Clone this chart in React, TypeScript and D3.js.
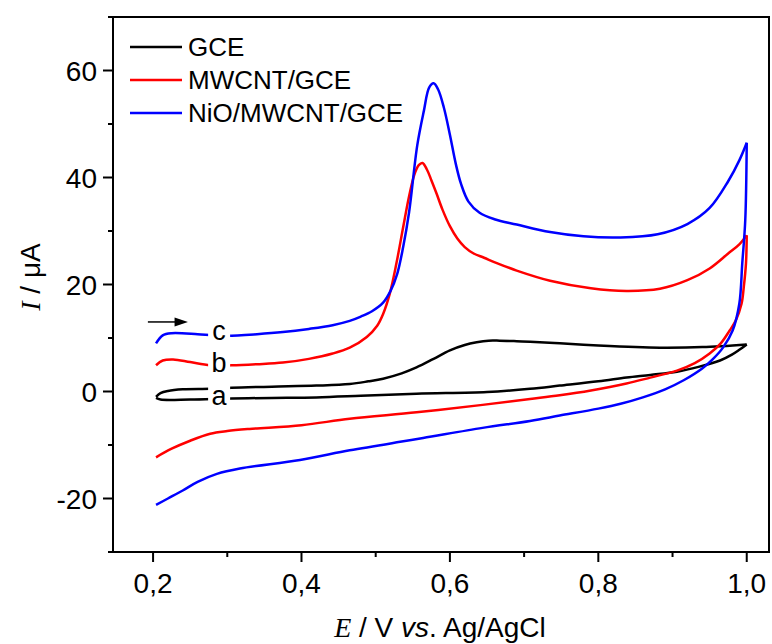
import React from "react";
import * as d3 from "d3";

// Cyclic voltammograms: forward (anodic) and reverse scans for each electrode
const gceFwdE = [0.204, 0.21, 0.22, 0.24, 0.277, 0.306, 0.36, 0.42, 0.465, 0.49, 0.51, 0.535, 0.555, 0.578, 0.6, 0.62, 0.636, 0.652, 0.667, 0.69, 0.708, 0.748, 0.8, 0.85, 0.883, 0.94, 1.0];
const gceFwdI = [-1.0, -0.3, 0.1, 0.4, 0.5, 0.7, 0.9, 1.1, 1.4, 1.9, 2.4, 3.4, 4.5, 6.1, 7.7, 8.7, 9.2, 9.5, 9.5, 9.4, 9.3, 9.0, 8.6, 8.3, 8.2, 8.3, 8.8];
const gceRevE = [1.0, 0.99, 0.98, 0.964, 0.935, 0.906, 0.87, 0.838, 0.8, 0.748, 0.708, 0.65, 0.555, 0.48, 0.42, 0.36, 0.306, 0.25, 0.21, 0.204];
const gceRevI = [8.8, 7.8, 6.9, 5.8, 4.6, 3.7, 3.1, 2.6, 1.9, 1.1, 0.5, -0.1, -0.4, -0.8, -1.1, -1.2, -1.3, -1.5, -1.5, -1.2];

const mwFwdE = [0.204, 0.213, 0.227, 0.25, 0.277, 0.306, 0.34, 0.375, 0.41, 0.442, 0.465, 0.488, 0.502, 0.51, 0.519, 0.528, 0.537, 0.545, 0.552, 0.558, 0.563, 0.569, 0.575, 0.582, 0.59, 0.6, 0.61, 0.62, 0.632, 0.646, 0.665, 0.69, 0.735, 0.79, 0.838, 0.883, 0.92, 0.95, 0.975, 0.99, 1.0];
const mwFwdI = [4.9, 5.8, 6.0, 5.5, 4.9, 4.9, 5.1, 5.4, 6.1, 7.1, 8.2, 10.2, 12.3, 14.5, 18.3, 24, 30.7, 36.5, 40.5, 42.3, 42.7, 41.5, 39.5, 37, 34, 30.9, 28.6, 27, 25.8, 25, 23.9, 22.6, 20.7, 19.3, 18.8, 19.2, 20.8, 23.0, 25.8, 27.5, 29.2];
const mwRevE = [1.0, 0.999, 0.996, 0.993, 0.985, 0.977, 0.965, 0.95, 0.93, 0.906, 0.87, 0.838, 0.79, 0.748, 0.708, 0.644, 0.555, 0.465, 0.4, 0.33, 0.3, 0.277, 0.25, 0.225, 0.204];
const mwRevI = [29.2, 24, 19.5, 16.4, 13.2, 11.4, 9.0, 7.1, 5.3, 3.9, 2.6, 1.5, 0.2, -0.7, -1.4, -2.5, -3.9, -5.1, -6.3, -7.0, -7.4, -7.9, -9.2, -10.7, -12.3];

const nioFwdE = [0.204, 0.213, 0.225, 0.26, 0.28, 0.3, 0.34, 0.375, 0.41, 0.442, 0.465, 0.48, 0.495, 0.51, 0.52, 0.529, 0.537, 0.545, 0.556, 0.565, 0.572, 0.578, 0.584, 0.592, 0.6, 0.608, 0.615, 0.625, 0.64, 0.66, 0.69, 0.735, 0.78, 0.83, 0.88, 0.92, 0.95, 0.975, 0.99, 1.0];
const nioFwdI = [9.0, 10.5, 10.9, 10.7, 10.5, 10.4, 10.7, 11.1, 11.7, 12.4, 13.2, 14.0, 15.0, 16.6, 18.8, 22, 27, 33.5, 46, 52.5, 56.8, 57.6, 56.5, 53, 48, 42.5, 38.8, 35.5, 33.4, 32.2, 31.2, 29.8, 29.0, 28.8, 29.4, 31.3, 34.3, 39.3, 43.2, 46.5];
const nioRevE = [1.0, 0.998, 0.994, 0.99, 0.981, 0.968, 0.954, 0.94, 0.915, 0.89, 0.86, 0.83, 0.8, 0.748, 0.708, 0.644, 0.564, 0.533, 0.465, 0.398, 0.317, 0.286, 0.26, 0.24, 0.22, 0.204];
const nioRevI = [46.5, 32, 24, 16.4, 11.4, 8.2, 6.0, 4.3, 2.1, 0.4, -1.1, -2.3, -3.2, -4.5, -5.5, -6.8, -8.7, -9.4, -11.0, -12.8, -14.4, -15.4, -16.9, -18.5, -20, -21.2];

const seriesNames = ["GCE", "MWCNT/GCE", "NiO/MWCNT/GCE"];
const seriesColors = ["#000000", "#ff0000", "#0000ff"];
const curveLetters = ["a", "b", "c"];
const letterI = [-0.65, 5.5, 11.5];

const xTicks = [0.2, 0.4, 0.6, 0.8, 1.0];
const xMinor = [0.3, 0.5, 0.7, 0.9];
const yTicks = [-20, 0, 20, 40, 60];
const yMinor = [-30, -10, 10, 30, 50, 70];

const W = 772;
const H = 644;
const left = 113;
const right = 769;
const top = 17;
const bottom = 552;
const font = "'Liberation Sans', Arial, sans-serif";

function zip(e: number[], i: number[]): [number, number][] {
  return e.map((v, k) => [v, i[k]]);
}

export default function App() {
  const x = d3.scaleLinear().domain([0.146, 1.03]).range([left, right]);
  const y = d3.scaleLinear().domain([-30, 70]).range([bottom, top]);
  const line = d3
    .line<[number, number]>()
    .x((d) => x(d[0]))
    .y((d) => y(d[1]))
    .curve(d3.curveCatmullRom.alpha(0.5));

  const branches = [
    [zip(gceFwdE, gceFwdI), zip(gceRevE, gceRevI)],
    [zip(mwFwdE, mwFwdI), zip(mwRevE, mwRevI)],
    [zip(nioFwdE, nioFwdI), zip(nioRevE, nioRevI)],
  ];

  const fmt = (v: number) => v.toFixed(1).replace(".", ",");
  const labelX = x(0.289);
  const arrowY = y(13);

  return (
    <svg
      width={W}
      height={H}
      style={{ position: "absolute", left: 0, top: 0, background: "#fff" }}
      fontFamily={font}
    >
      <rect x={0} y={0} width={W} height={H} fill="#fff" />
      {/* curves */}
      {branches.map((b, k) => (
        <g key={k} fill="none" stroke={seriesColors[k]} strokeWidth={2.5} strokeLinejoin="round">
          <path d={line(b[0]) || ""} />
          <path d={line(b[1]) || ""} />
        </g>
      ))}

      {/* curve letters with white backing */}
      {curveLetters.map((c, k) => (
        <g key={c}>
          <rect x={labelX - 11} y={y(letterI[k]) - 11} width={22} height={22} fill="#fff" />
          <text x={labelX} y={y(letterI[k])} dy="0.36em" textAnchor="middle" fontSize={27} fill="#000">
            {c}
          </text>
        </g>
      ))}

      {/* scan direction arrow */}
      <line x1={x(0.193)} x2={x(0.232)} y1={arrowY} y2={arrowY} stroke="#000" strokeWidth={1.5} />
      <path
        d={`M${x(0.247)},${arrowY} L${x(0.229)},${arrowY - 4.5} L${x(0.229)},${arrowY + 4.5} Z`}
        fill="#000"
      />

      {/* frame */}
      <rect x={left} y={top} width={right - left} height={bottom - top} fill="none" stroke="#000" strokeWidth={2} />

      {/* x axis ticks */}
      {xTicks.map((t) => (
        <g key={t}>
          <line x1={x(t)} x2={x(t)} y1={bottom} y2={bottom + 10} stroke="#000" strokeWidth={2} />
          <text x={x(t)} y={bottom + 41} textAnchor="middle" fontSize={28}>
            {fmt(t)}
          </text>
        </g>
      ))}
      {xMinor.map((t) => (
        <line key={t} x1={x(t)} x2={x(t)} y1={bottom} y2={bottom + 5} stroke="#000" strokeWidth={2} />
      ))}

      {/* y axis ticks */}
      {yTicks.map((t) => (
        <g key={t}>
          <line x1={left - 10} x2={left} y1={y(t)} y2={y(t)} stroke="#000" strokeWidth={2} />
          <text x={left - 16} y={y(t)} dy="0.36em" textAnchor="end" fontSize={28}>
            {t}
          </text>
        </g>
      ))}
      {yMinor.map((t) => (
        <line key={t} x1={left - 5} x2={left} y1={y(t)} y2={y(t)} stroke="#000" strokeWidth={2} />
      ))}

      {/* axis titles */}
      <text x={440} y={637} textAnchor="middle" fontSize={28}>
        <tspan fontFamily="'Liberation Serif', 'Times New Roman', serif" fontStyle="italic">E</tspan>
        <tspan> / V </tspan>
        <tspan fontStyle="italic">vs</tspan>
        <tspan>. Ag/AgCl</tspan>
      </text>
      <text transform={`translate(40,${277}) rotate(-90)`} textAnchor="middle" fontSize={28}>
        <tspan fontFamily="'Liberation Serif', 'Times New Roman', serif" fontStyle="italic">I</tspan>
        <tspan> / μA</tspan>
      </text>

      {/* legend */}
      {seriesNames.map((n, k) => (
        <g key={n} transform={`translate(130,${47 + k * 33})`}>
          <line x1={0} x2={52} y1={0} y2={0} stroke={seriesColors[k]} strokeWidth={2.5} />
          <text x={58} y={0} dy="0.36em" fontSize={26}>
            {n}
          </text>
        </g>
      ))}
    </svg>
  );
}
